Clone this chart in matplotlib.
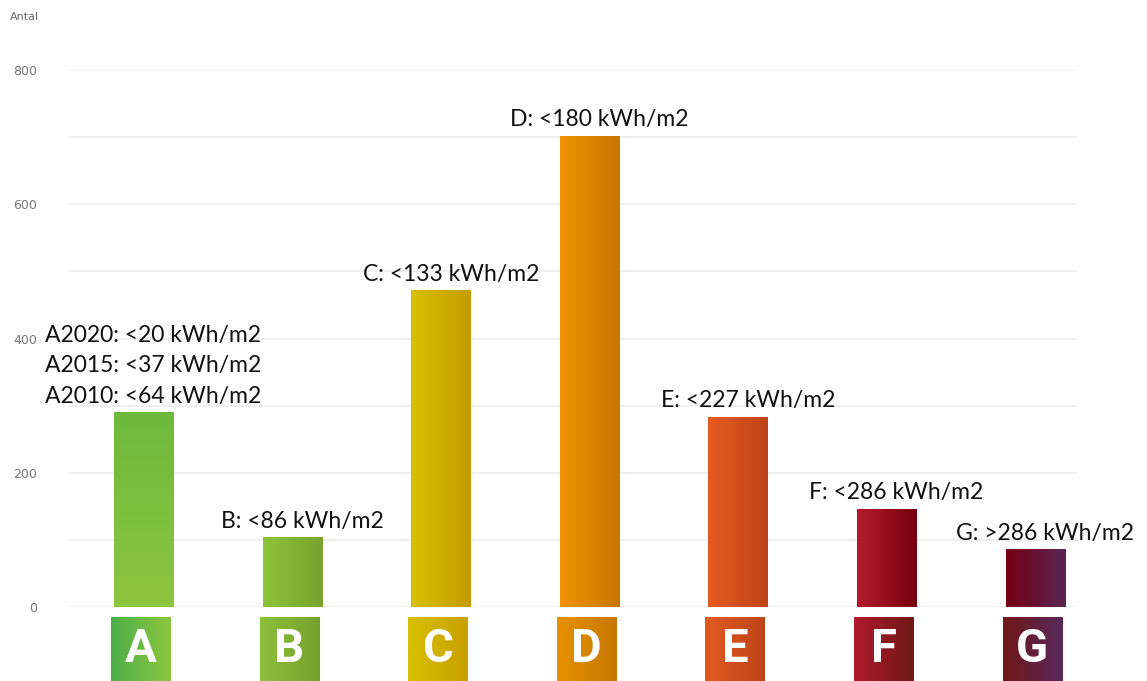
import matplotlib
matplotlib.use("Agg")
from matplotlib import pyplot as plt
from matplotlib.colors import LinearSegmentedColormap
import numpy as np

# data
classes = ["A", "B", "C", "D", "E", "F", "G"]
counts = [290, 104, 472, 702, 283, 146, 86]
labels = [
    "A2020: <20 kWh/m2\nA2015: <37 kWh/m2\nA2010: <64 kWh/m2",
    "B: <86 kWh/m2",
    "C: <133 kWh/m2",
    "D: <180 kWh/m2",
    "E: <227 kWh/m2",
    "F: <286 kWh/m2",
    "G: >286 kWh/m2",
]

# gradient colours (start, end) for bars and for the letter boxes
bar_colors = [("#6db93c", "#8dc63f"), ("#8ec33a", "#77a22e"), ("#d8c000", "#c49c00"),
              ("#f29400", "#c87600"), ("#e55a20", "#bf441a"), ("#b31b2b", "#78000f"),
              ("#740015", "#5a2552")]
box_colors = [("#4caf4a", "#8dc63f"), ("#8dbf3a", "#76a22e"), ("#d6c000", "#c8a000"),
              ("#e89000", "#c67800"), ("#e05a22", "#c0441a"), ("#b01a2a", "#6e1818"),
              ("#701818", "#58285a")]

W, H = 1147, 681
fig = plt.figure(figsize=(W / 100, H / 100), dpi=100)
ax = fig.add_axes([68 / W, (H - 607) / H, (1077 - 68) / W, (607 - 70) / H])
x = np.arange(len(classes))
xlim = (-0.51, 6.28)


def grad_fill(a, patch, c0, c1, vertical=False):
    cmap = LinearSegmentedColormap.from_list("g", [c0, c1])
    g = np.linspace(0, 1, 64)
    img = g.reshape(-1, 1) if vertical else g.reshape(1, -1)
    bb = patch.get_bbox()
    im = a.imshow(img, cmap=cmap, aspect="auto", origin="upper" if vertical else "lower",
                  extent=[bb.x0, bb.x1, bb.y0, bb.y1], zorder=3)
    im.set_clip_path(patch)


bars = ax.bar(x, counts, width=0.4, color="none", edgecolor="none", zorder=3)
for i, b in enumerate(bars):
    grad_fill(ax, b, *bar_colors[i], vertical=(i == 0))
    ax.annotate(labels[i], (x[i], counts[i]), xytext=(7, 4), textcoords="offset points",
                ha="center", va="bottom", multialignment="left", fontsize=16.5,
                family="Lato", color="#111111", linespacing=1.55, zorder=5,
                annotation_clip=False)

ax.set_xlim(*xlim)
ax.set_ylim(0, 800)
ax.set_yticks(range(0, 801, 100), minor=True)
ax.set_yticks(range(0, 801, 200))
ax.grid(axis="y", which="both", color="#ececec", lw=1.2, zorder=0)
ax.tick_params(axis="y", which="both", length=0, pad=22, labelsize=9, labelcolor="#777777")
ax.set_xticks([])
for s in ax.spines.values():
    s.set_visible(False)
fig.text(10 / W, 1 - 17 / H, "Antal", fontsize=8, color="#666666", va="center")

# letter boxes under the bars
ax2 = fig.add_axes([68 / W, 0, (1077 - 68) / W, (H - 617) / H])
ax2.set_xlim(*xlim)
ax2.set_ylim(0, 1)
ax2.axis("off")
boxes = ax2.bar(x - 0.02, [1.0] * len(classes), width=0.4, color="none", edgecolor="none")
for i, b in enumerate(boxes):
    grad_fill(ax2, b, *box_colors[i])
    ax2.text(x[i] - 0.02, 0.5, classes[i], ha="center", va="center", fontsize=34,
             fontweight="bold", family="Roboto", color="white", zorder=5)

fig.savefig("out.png", dpi=100)
